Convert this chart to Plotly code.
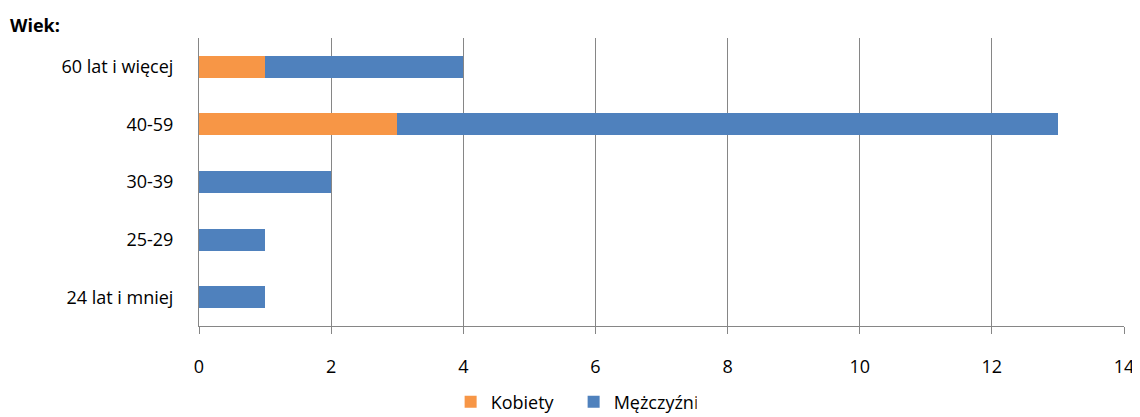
import plotly.graph_objects as go

# ── data ────────────────────────────────────────────────────────────────────
categories = ["24 lat i mniej", "25-29", "30-39", "40-59", "60 lat i więcej"]
kobiety = [0, 0, 0, 3, 1]
mezczyzni = [1, 1, 2, 10, 3]
x_ticks = [0, 2, 4, 6, 8, 10, 12, 14]

FONT = "'Open Sans', sans-serif"
GRID = "#868686"

# page has an 8px body margin, so the figure is sized to fit inside it
fig = go.Figure()
fig.add_trace(go.Bar(
    y=categories, x=kobiety, name="Kobiety", orientation="h",
    marker=dict(color="#F79646", line=dict(width=0)), width=0.38,
))
fig.add_trace(go.Bar(
    y=categories, x=mezczyzni, name="Mężczyźni", orientation="h",
    marker=dict(color="#4F81BD", line=dict(width=0)), width=0.38,
))

fig.update_layout(
    width=1132, height=409,
    barmode="stack",
    plot_bgcolor="white", paper_bgcolor="white",
    margin=dict(l=191, r=16, t=30, b=91, autoexpand=False),
    font=dict(family=FONT, size=18, color="black"),
    showlegend=True,
    legend=dict(orientation="h", x=0.405, xanchor="center", y=-0.264, yanchor="middle",
                font=dict(size=18), traceorder="normal", itemwidth=30, entrywidth=78),
    annotations=[dict(text="<b>Wiek:</b>", xref="paper", yref="paper",
                      x=-191 / 925, y=1 + 13 / 288, xanchor="left", yanchor="middle",
                      showarrow=False, font=dict(size=18))],
)

fig.update_xaxes(
    range=[0, 14], tickvals=x_ticks, showgrid=True, gridcolor=GRID, gridwidth=1,
    zeroline=False, showline=True, linecolor=GRID, linewidth=1,
    ticks="outside", ticklen=7, tickcolor=GRID, ticklabelstandoff=17,
    automargin=False,
)
fig.update_yaxes(
    categoryorder="array", categoryarray=categories,
    showgrid=False, zeroline=False, showline=True, linecolor=GRID, linewidth=1,
    ticks="", ticklabelstandoff=21, automargin=False,
)

fig.write_html("out.html")
